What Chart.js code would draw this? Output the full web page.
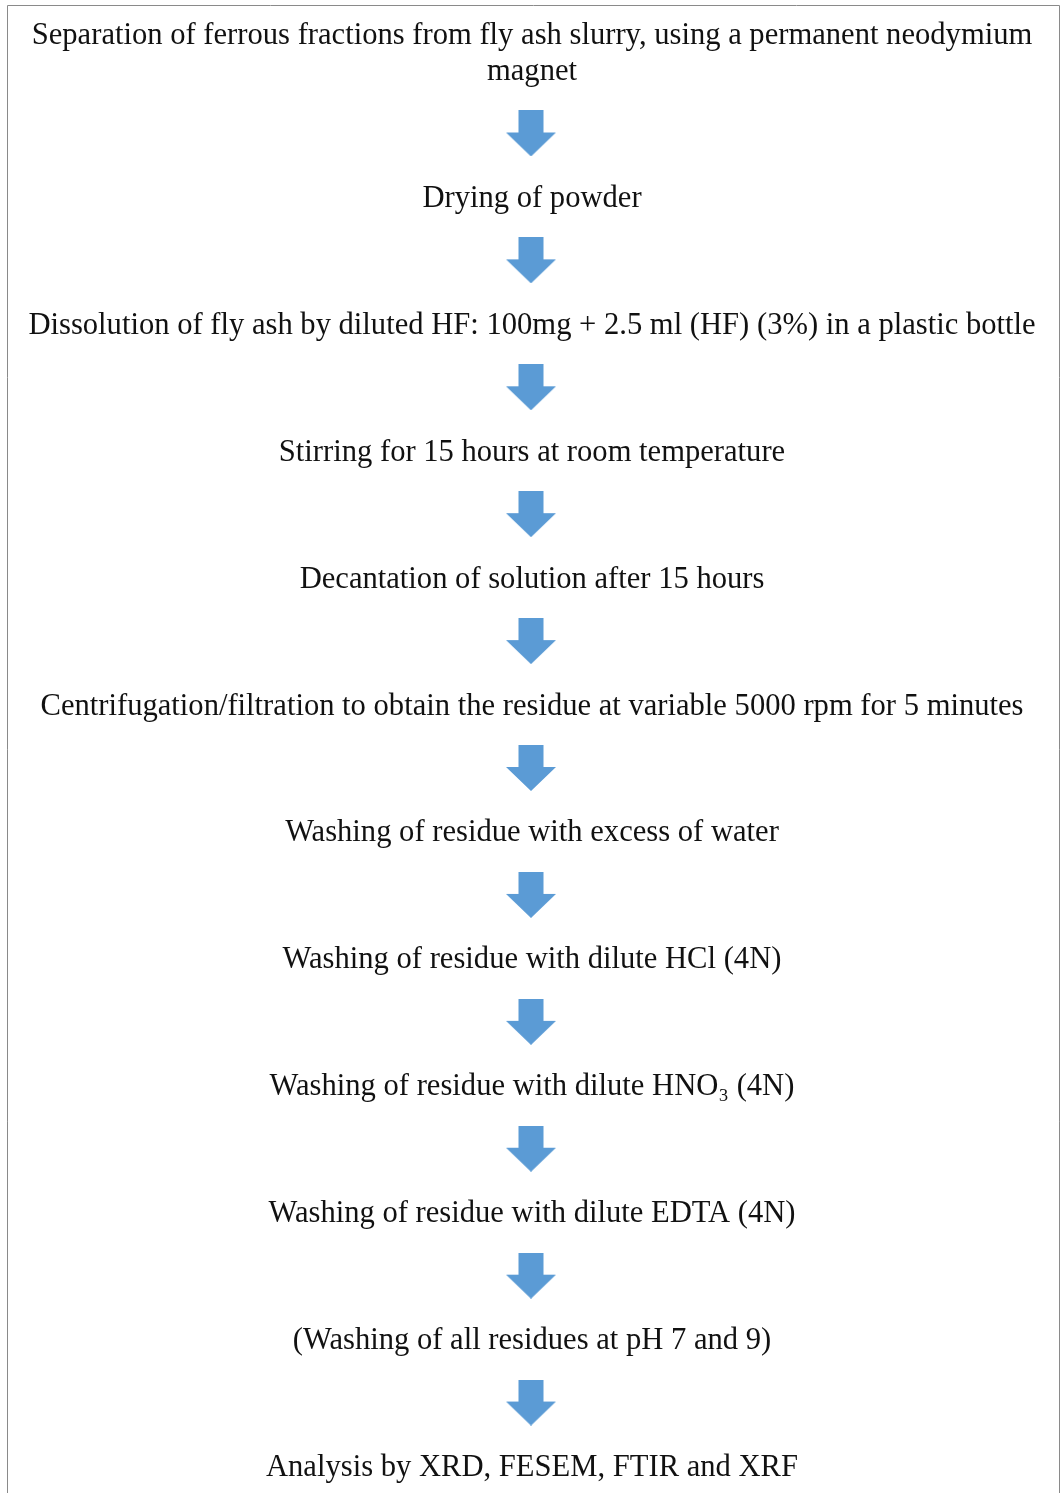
<!DOCTYPE html>
<html>
<head>
<meta charset="utf-8">
<script src="https://cdn.jsdelivr.net/npm/chart.js@4.4.1/dist/chart.umd.min.js"></script>
<style>
  html, body { margin: 0; padding: 0; background: #fff; }
  #wrap { width: 1062px; height: 1493px; position: relative; }
</style>
</head>
<body>
<div id="wrap"><canvas id="fluxo"></canvas></div>
<script>
// etapas do processo (cada uma pode ter mais de uma linha)
const etapas = [
    ['Separation of ferrous fractions from fly ash slurry, using a permanent neodymium', 'magnet'],
    ['Drying of powder'],
    ['Dissolution of fly ash by diluted HF: 100mg + 2.5 ml (HF) (3%) in a plastic bottle'],
    ['Stirring for 15 hours at room temperature'],
    ['Decantation of solution after 15 hours'],
    ['Centrifugation/filtration to obtain the residue at variable 5000 rpm for 5 minutes'],
    ['Washing of residue with excess of water'],
    ['Washing of residue with dilute HCl (4N)'],
    ['Washing of residue with dilute HNO\u2083 (4N)'],
    ['Washing of residue with dilute EDTA (4N)'],
    ['(Washing of all residues at pH 7 and 9)'],
    ['Analysis by XRD, FESEM, FTIR and XRF']
];
const posicaoEtapa = [0, 1, 2, 3, 4, 5, 6, 7, 8, 9, 10, 11];
const posicaoSeta = [0.5, 1.5, 2.5, 3.5, 4.5, 5.5, 6.5, 7.5, 8.5, 9.5, 10.5];

function desenharSeta() {
    var c = document.createElement('canvas');
    c.width = 50; c.height = 46;
    var g = c.getContext('2d');
    g.fillStyle = '#5b9bd5';
    g.beginPath();
    g.moveTo(12.5, 0);
    g.lineTo(37.5, 0);
    g.lineTo(37.5, 22);
    g.lineTo(50, 22);
    g.lineTo(25, 46);
    g.lineTo(0, 22);
    g.lineTo(12.5, 22);
    g.closePath();
    g.fill();
    return c;
}

const pluginTextos = {
    id: 'textos',
    beforeDraw(chart) {
        var ctx = chart.ctx;
        ctx.save();
        ctx.strokeStyle = '#8a8a8a';
        ctx.lineWidth = 1;
        ctx.beginPath();
        ctx.moveTo(7.5, 1493);
        ctx.lineTo(7.5, 5.5);
        ctx.lineTo(1059.5, 5.5);
        ctx.lineTo(1059.5, 1493);
        ctx.stroke();
        ctx.restore();
    },
    afterDatasetsDraw(chart) {
        var ctx = chart.ctx;
        var x = chart.scales.x.getPixelForValue(0.5) + 1;
        ctx.save();
        ctx.fillStyle = '#111';
        ctx.font = '30.6px "Liberation Serif", "Times New Roman", serif';
        ctx.textAlign = 'center';
        ctx.textBaseline = 'alphabetic';
        etapas.forEach(function (linhas, i) {
            var y = chart.scales.y.getPixelForValue(posicaoEtapa[i]);
            for (var k = 0; k < linhas.length; k++) {
                var dy = (k - (linhas.length - 1)) * 36;
                ctx.fillText(linhas[k], x, y + dy + 10);
            }
        });
        ctx.restore();
    }
};

function criarFluxograma() {
    var contexto = document.getElementById('fluxo').getContext('2d');
    new Chart(contexto, {
        type: 'scatter',
        data: {
            datasets: [{
                data: posicaoSeta.map(function (v) { return { x: 0.5, y: v }; }),
                pointStyle: desenharSeta(),
                pointRadius: 25,
                pointHoverRadius: 25
            }]
        },
        options: {
            responsive: true,
            maintainAspectRatio: false,
            animation: false,
            events: [],
            layout: { padding: 0, autoPadding: false },
            plugins: { legend: { display: false }, tooltip: { enabled: false } },
            scales: {
                x: { display: false, min: 0, max: 1 },
                y: { display: false, reverse: true, min: -70 / 126.9, max: 11 + 27 / 126.9 }
            }
        },
        plugins: [pluginTextos]
    });
}

criarFluxograma();
</script>
</body>
</html>
